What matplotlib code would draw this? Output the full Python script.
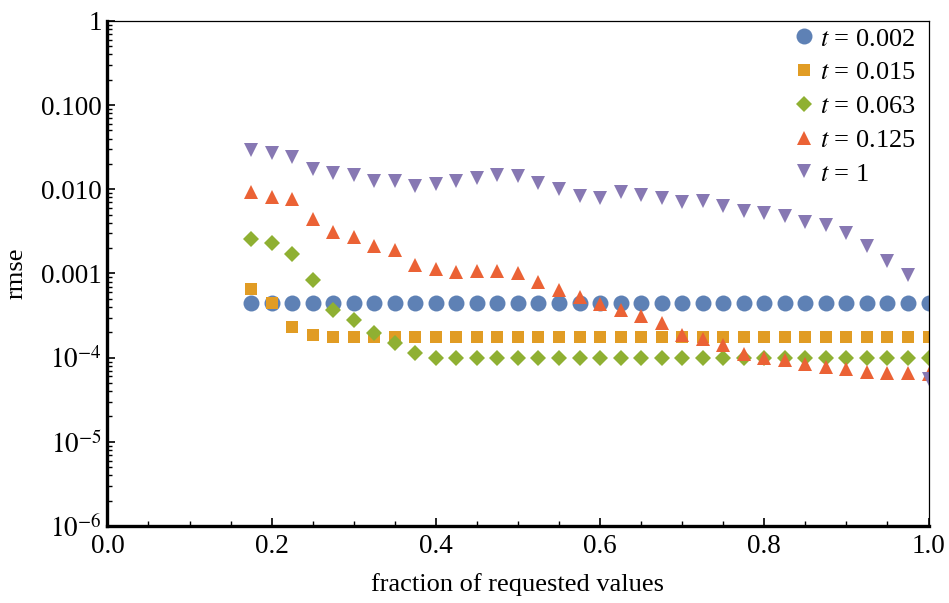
import numpy as np
import matplotlib
matplotlib.use("Agg")
import matplotlib.pyplot as plt
from matplotlib.ticker import FixedLocator, FixedFormatter, MultipleLocator

plt.rcParams['font.family'] = ['Liberation Serif', 'DejaVu Serif']
plt.rcParams['mathtext.fontset'] = 'stix'

# ---- data ----
fraction = [0.175, 0.2, 0.225, 0.25, 0.275, 0.3, 0.325, 0.35, 0.375, 0.4,
            0.425, 0.45, 0.475, 0.5, 0.525, 0.55, 0.575, 0.6, 0.625, 0.65,
            0.675, 0.7, 0.725, 0.75, 0.775, 0.8, 0.825, 0.85, 0.875, 0.9,
            0.925, 0.95, 0.975, 1.0]

rmse_t0002 = [0.00045] * 34

rmse_t0015 = [0.00065, 0.000443, 0.00023, 0.000185] + [0.000175] * 30

rmse_t0063 = [0.0026, 0.00229, 0.0017, 0.00084, 0.000366, 0.00028, 0.000195,
              0.000148, 0.000113] + [0.0000995] * 25

rmse_t0125 = [0.0092, 0.0082, 0.0076, 0.0044, 0.00315, 0.00275, 0.0021, 0.0019,
              0.00125, 0.00114, 0.00105, 0.00106, 0.00106, 0.00101, 0.0008,
              0.00063, 0.00053, 0.00043, 0.00037, 0.00031, 0.000257, 0.000187,
              0.000167, 0.000141, 0.00011, 0.0001, 0.000094, 0.000084, 0.000078,
              0.000074, 0.000068, 0.000066, 0.000066, 0.000064]

rmse_t1 = [0.0294, 0.0268, 0.0245, 0.0175, 0.0158, 0.0146, 0.0126, 0.0126,
           0.011, 0.0116, 0.0127, 0.0135, 0.0146, 0.0145, 0.012, 0.010,
           0.0084, 0.0078, 0.0094, 0.0086, 0.0078, 0.0070, 0.0072, 0.0064,
           0.0055, 0.0052, 0.0048, 0.0041, 0.0038, 0.0030, 0.0021, 0.00142,
           0.00096, 0.000056]

series_labels = ['$t$ = 0.002', '$t$ = 0.015', '$t$ = 0.063', '$t$ = 0.125', '$t$ = 1']

y_ticks = [1e-6, 1e-5, 1e-4, 1e-3, 1e-2, 1e-1, 1]
y_tick_labels = ['$10^{-6}$', '$10^{-5}$', '$10^{-4}$', '0.001', '0.010', '0.100', '1']
x_ticks = [0.0, 0.2, 0.4, 0.6, 0.8, 1.0]
x_tick_labels = ['0.0', '0.2', '0.4', '0.6', '0.8', '1.0']

colors = ['#5E81B5', '#E19C24', '#8FB032', '#EB6235', '#8778B3']
markers = ['o', 's', 'D', '^', 'v']
msizes = [11.5, 8.0, 8.0, 10.0, 10.0]

# ---- figure ----
fig = plt.figure(figsize=(9.49, 6.03), dpi=100)
ax = fig.add_axes([0.1132, 0.1277, 0.9784 - 0.1132, 0.9652 - 0.1277])

all_series = [rmse_t0002, rmse_t0015, rmse_t0063, rmse_t0125, rmse_t1]
for vals, c, m, ms, lab in zip(all_series, colors, markers, msizes, series_labels):
    ax.plot(fraction, vals, linestyle='none', marker=m, markersize=ms,
            color=c, markeredgewidth=0, label=lab, clip_on=True)

ax.set_yscale('log')
ax.set_xlim(0, 1)
ax.set_ylim(1e-6, 1)

ax.yaxis.set_major_locator(FixedLocator(y_ticks))
ax.yaxis.set_major_formatter(FixedFormatter(y_tick_labels))
minor = []
for d in range(-6, 0):
    for k in range(2, 10):
        minor.append(k * 10.0 ** d)
ax.yaxis.set_minor_locator(FixedLocator(minor))
ax.yaxis.set_minor_formatter(FixedFormatter([''] * len(minor)))

ax.xaxis.set_major_locator(FixedLocator(x_ticks))
ax.xaxis.set_major_formatter(FixedFormatter(x_tick_labels))
ax.xaxis.set_minor_locator(MultipleLocator(0.05))

ax.tick_params(which='both', direction='in', top=False, right=False,
               labelsize=19.5, colors='black')
ax.tick_params(which='major', length=6, width=1.2)
ax.tick_params(which='minor', length=3.5, width=1.0)
ax.tick_params(axis='x', which='major', pad=6)
ax.tick_params(axis='y', which='major', pad=4)

for s in ['left', 'bottom']:
    ax.spines[s].set_linewidth(2.4)
for s in ['top', 'right']:
    ax.spines[s].set_linewidth(0.9)

ax.set_xlabel('fraction of requested values', fontsize=19, labelpad=10)
ax.set_ylabel('rmse', fontsize=19, labelpad=10)

leg = ax.legend(loc='upper right', bbox_to_anchor=(1.0, 1.014), frameon=False,
                fontsize=19, handlelength=0.8, handletextpad=0.2,
                labelspacing=0.39, borderaxespad=0.1, numpoints=1)

fig.savefig('out.png', dpi=100)
